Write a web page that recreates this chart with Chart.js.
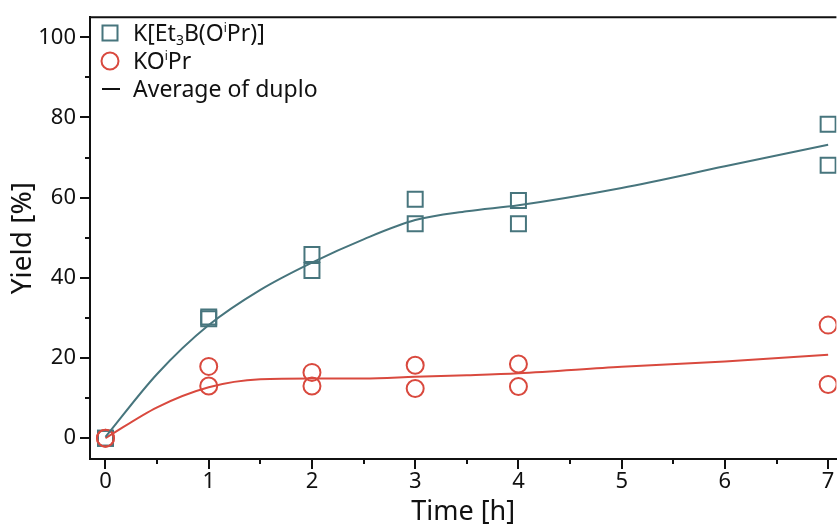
<!DOCTYPE html>
<html>
<head>
<meta charset="utf-8">
<script src="https://cdn.jsdelivr.net/npm/chart.js@4.4.1/dist/chart.umd.min.js"></script>
<style>
  html, body { margin: 0; padding: 0; background: #fff; overflow: hidden; }
  #wrap { width: 849px; height: 527px; position: relative; }
</style>
</head>
<body>
<div id="wrap"><canvas id="myChart"></canvas></div>
<script>
// measured points (two runs each)
var times = [0, 1, 2, 3, 4, 7];
var boronateRun1 = [0, 30.2, 45.8, 59.6, 59.3, 78.3];
var boronateRun2 = [0, 29.8, 41.8, 53.5, 53.5, 68.1];
var alkoxideRun1 = [0, 17.9, 16.4, 18.2, 18.5, 28.2];
var alkoxideRun2 = [0, 13.0, 13.0, 12.4, 12.9, 13.4];

// average-of-duplo curves
var fitTimes = [0, 0.5, 1, 1.5, 2, 2.5, 3, 3.5, 4, 5, 6, 7];
var boronateFit = [0.3, 16.0, 28.2, 37.0, 43.8, 49.6, 54.4, 56.6, 58.1, 62.4, 67.8, 73.2];
var alkoxideFit = [0, 7.7, 12.7, 14.7, 14.9, 14.9, 15.3, 15.7, 16.2, 17.8, 19.1, 20.8];

var xTicks = [0, 1, 2, 3, 4, 5, 6, 7];
var xMinor = [0.5, 1.5, 2.5, 3.5, 4.5, 5.5, 6.5];
var yTicks = [0, 20, 40, 60, 80, 100];
var yMinor = [10, 30, 50, 70, 90];

var teal = '#47757d';
var red = '#d9493e';
var FONT = "'Noto Sans', sans-serif";

function pts(xs, ys) {
  return xs.map(function (x, i) { return { x: x, y: ys[i] }; });
}

// ticks, top spine and legend are drawn by hand
var decor = {
  id: 'decor',
  afterDraw: function (chart) {
    var ctx = chart.ctx;
    var xs = chart.scales.x, ys = chart.scales.y;
    var a = chart.chartArea;
    ctx.save();
    ctx.strokeStyle = '#111';
    ctx.lineWidth = 2;
    ctx.beginPath();
    ctx.moveTo(a.left - 1, a.top);
    ctx.lineTo(a.right, a.top);
    xTicks.forEach(function (v) {
      var p = Math.round(xs.getPixelForValue(v));
      ctx.moveTo(p, a.bottom); ctx.lineTo(p, a.bottom + 10);
    });
    xMinor.forEach(function (v) {
      var p = Math.round(xs.getPixelForValue(v));
      ctx.moveTo(p, a.bottom); ctx.lineTo(p, a.bottom + 5);
    });
    yTicks.forEach(function (v) {
      var p = Math.round(ys.getPixelForValue(v));
      ctx.moveTo(a.left, p); ctx.lineTo(a.left - 10, p);
    });
    yMinor.forEach(function (v) {
      var p = Math.round(ys.getPixelForValue(v));
      ctx.moveTo(a.left, p); ctx.lineTo(a.left - 5, p);
    });
    ctx.stroke();

    // legend
    var tx = 133, mx = 110;
    ctx.lineWidth = 2;
    ctx.strokeStyle = teal;
    ctx.strokeRect(mx - 7.5, 33 - 7.5, 15, 15);
    ctx.strokeStyle = red;
    ctx.beginPath();
    ctx.arc(mx, 61, 8.5, 0, Math.PI * 2);
    ctx.stroke();
    ctx.strokeStyle = '#111';
    ctx.beginPath();
    ctx.moveTo(102, 89); ctx.lineTo(120, 89);
    ctx.stroke();

    ctx.fillStyle = '#111';
    ctx.textBaseline = 'alphabetic';
    ctx.textAlign = 'left';
    function rich(parts, x, base) {
      parts.forEach(function (p) {
        var size = 23, dy = 0;
        if (p[1] === 'sub') { size = 14; dy = 4; }
        if (p[1] === 'sup') { size = 12; dy = -9.5; }
        ctx.font = size + 'px ' + FONT;
        ctx.fillText(p[0], x, base + dy);
        x += ctx.measureText(p[0]).width;
      });
    }
    rich([['K[Et'], ['3', 'sub'], ['B(O'], ['i', 'sup'], ['Pr)]']], tx, 41);
    rich([['KO'], ['i', 'sup'], ['Pr']], tx, 69);
    rich([['Average of duplo']], tx, 97);
    ctx.restore();
  }
};

var ctx = document.getElementById('myChart').getContext('2d');
var myChart = new Chart(ctx, {
  type: 'scatter',
  data: {
    datasets: [
      {
        label: 'K[Et₃B(OⁱPr)] fit',
        type: 'line',
        data: pts(fitTimes, boronateFit),
        borderColor: teal,
        borderWidth: 2,
        pointRadius: 0,
        cubicInterpolationMode: 'monotone',
        fill: false
      },
      {
        label: 'KOⁱPr fit',
        type: 'line',
        data: pts(fitTimes, alkoxideFit),
        borderColor: red,
        borderWidth: 2,
        pointRadius: 0,
        cubicInterpolationMode: 'monotone',
        fill: false
      },
      {
        label: 'KOⁱPr',
        data: pts(times, alkoxideRun1).concat(pts(times, alkoxideRun2)),
        pointStyle: 'circle',
        pointRadius: 8.5,
        borderColor: red,
        backgroundColor: 'rgba(0,0,0,0)',
        borderWidth: 2
      },
      {
        label: 'K[Et₃B(OⁱPr)]',
        data: pts(times, boronateRun1).concat(pts(times, boronateRun2)),
        pointStyle: 'rect',
        pointRadius: 10.6,
        borderColor: teal,
        backgroundColor: 'rgba(0,0,0,0)',
        borderWidth: 2
      }
    ]
  },
  plugins: [decor],
  options: {
    responsive: true,
    maintainAspectRatio: false,
    animation: false,
    layout: { padding: { top: 14, right: 0, left: 0, bottom: 0 } },
    plugins: { legend: { display: false }, tooltip: { enabled: false } },
    scales: {
      x: {
        type: 'linear',
        min: -0.15,
        max: 7.08,
        afterBuildTicks: function (s) { s.ticks = xTicks.map(function (v) { return { value: v }; }); },
        afterFit: function (s) { s.height = 68; },
        grid: { drawOnChartArea: false, tickColor: 'rgba(0,0,0,0)', tickLength: 4 },
        border: { color: '#111', width: 2 },
        ticks: {
          color: '#111',
          padding: 6,
          maxRotation: 0,
          font: { family: FONT, size: 22 },
          callback: function (v) { return String(v); }
        },
        title: {
          display: true,
          text: 'Time [h]',
          color: '#111',
          font: { family: FONT, size: 27, lineHeight: 1 },
          padding: { top: 0, bottom: 1.5 }
        }
      },
      y: {
        type: 'linear',
        min: -5.2,
        max: 105,
        afterBuildTicks: function (s) { s.ticks = yTicks.map(function (v) { return { value: v }; }); },
        afterFit: function (s) { s.width = 90; },
        grid: { drawOnChartArea: false, tickColor: 'rgba(0,0,0,0)', tickLength: 10 },
        border: { color: '#111', width: 2 },
        ticks: {
          color: '#111',
          padding: 4,
          font: { family: FONT, size: 22 },
          callback: function (v) { return String(v); }
        },
        title: {
          display: true,
          text: 'Yield [%]',
          color: '#111',
          font: { family: FONT, size: 28, lineHeight: 1 },
          padding: { top: 9, bottom: 0 }
        }
      }
    }
  }
});
</script>
</body>
</html>
